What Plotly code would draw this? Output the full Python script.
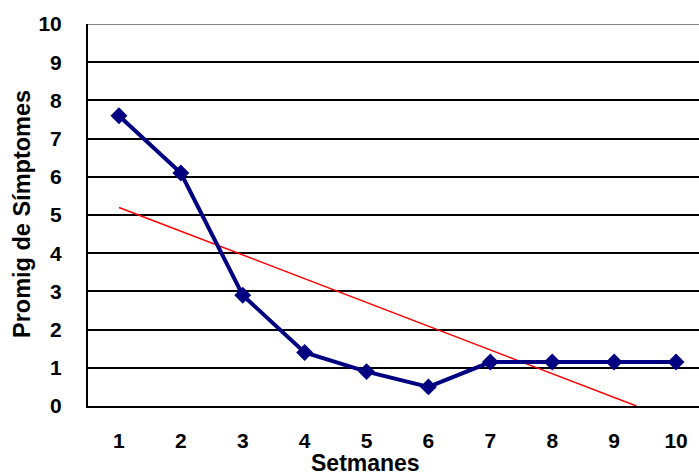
import numpy as np
import plotly.graph_objects as go

weeks = [1, 2, 3, 4, 5, 6, 7, 8, 9, 10]
symptoms = [7.6, 6.1, 2.9, 1.4, 0.9, 0.5, 1.15, 1.15, 1.15, 1.15]
y_ticks = [0, 1, 2, 3, 4, 5, 6, 7, 8, 9, 10]
x_title = "Setmanes"
y_title = "Promig de Símptomes"

# linear trend line fitted to the data, clipped at the axis minimum
slope, intercept = np.polyfit(weeks, symptoms, 1)
x_end = min(weeks[-1], -intercept / slope)
trend_x = [weeks[0], x_end]
trend_y = [slope * x + intercept for x in trend_x]

W, H = 699, 475
L, T, B = 88, 24, 69
cat_px = 61.9
plot_w = W - L
x_range = [0.5, 0.5 + plot_w / cat_px]

fig = go.Figure()
fig.add_trace(go.Scatter(
    x=trend_x, y=trend_y, mode="lines",
    line=dict(color="#FF0000", width=1.5),
    showlegend=False, hoverinfo="skip", cliponaxis=False,
))
fig.add_trace(go.Scatter(
    x=weeks, y=symptoms, mode="lines+markers",
    line=dict(color="#000080", width=4),
    marker=dict(symbol="diamond", size=13, color="#000080"),
    showlegend=False, cliponaxis=False,
))

font_family = "Liberation Sans, Arial, sans-serif"
tick_font = dict(family=font_family, size=21, color="black", weight="bold")
fig.update_layout(
    width=W, height=H,
    margin=dict(l=L, r=0, t=T, b=B, pad=0),
    paper_bgcolor="white", plot_bgcolor="white",
    font=dict(family=font_family, size=19, color="black"),
    xaxis=dict(
        range=x_range, tickmode="array", tickvals=weeks,
        ticktext=[str(w) for w in weeks],
        showgrid=False, zeroline=False,
        showline=True, linecolor="black", linewidth=2,
        ticks="", ticklabelstandoff=15,
        tickfont=tick_font,
    ),
    yaxis=dict(
        range=[0, 10], tickmode="array", tickvals=y_ticks,
        showgrid=True, gridcolor="black", gridwidth=2,
        zeroline=False,
        showline=True, linecolor="black", linewidth=2,
        ticks="", ticklabelstandoff=20,
        tickfont=tick_font,
    ),
    annotations=[
        dict(text="<b>" + x_title + "</b>", xref="paper", yref="paper",
             x=(365 - L) / plot_w, y=-(463 - (H - B)) / (H - T - B),
             xanchor="center", yanchor="middle", showarrow=False,
             font=dict(family=font_family, size=23, color="black")),
        dict(text="<b>" + y_title + "</b>", xref="paper", yref="paper",
             x=-(L - 22) / plot_w, y=((H - B) - 214) / (H - T - B),
             xanchor="center", yanchor="middle", showarrow=False, textangle=-90,
             font=dict(family=font_family, size=23.5, color="black")),
    ],
)
# top border grey line at 10
fig.add_shape(type="line", xref="paper", yref="y", x0=0, x1=1, y0=10, y1=10,
              line=dict(color="#808080", width=2))

fig.write_html("out.html")
